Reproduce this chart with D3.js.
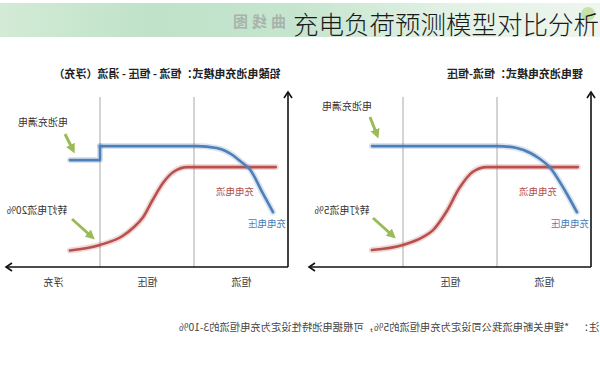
<!DOCTYPE html>
<html><head><meta charset="utf-8">
<script src="https://cdn.jsdelivr.net/npm/d3@7"></script>
<style>
html,body{margin:0;padding:0;background:#fff;}
svg{display:block;font-family:"Noto Sans CJK SC","Noto Sans",sans-serif;}
</style></head>
<body><svg id="c" width="600" height="366"></svg>
<script>
// ---------- data ----------
const mainTitle = "充电负荷预测模型对比分析";
const bannerText = "曲线图";
const leadTitle = "铅酸电池充电模式：恒流 - 恒压 - 涓流（浮充）";
const liTitle = "锂电池充电模式：恒流-恒压";
const leadPhases = ["恒流", "恒压", "浮充"];
const liPhases = ["恒流", "恒压"];
const fullLabel = "电池充满电";
const leadCutLabel = "转灯电流20%";
const liCutLabel = "转灯电流5%";
const currentLabel = "充电电流";
const voltageLabel = "充电电压";
const noteHead = "注：";
const noteBody = "*锂电关断电流我公司设定为充电恒流的5%，可根据电池特性设定为充电恒流的3-10%";

// [time (phase units), level]
const leadVoltage = [[0.16,3.14],[0.27,4.23],[0.40,5.54],[0.51,6.06],[0.59,6.4],[0.76,6.8],[0.97,6.91],[2.0,6.91]];
const leadVoltageFloat = [[2.0,6.91],[2.0,6.11],[2.32,6.11]];
const leadCurrent = [[0.13,5.71],[1.07,5.71],[1.22,5.43],[1.33,4.8],[1.44,3.83],[1.54,2.86],[1.65,2.23],[1.76,1.77],[2.0,1.26],[2.32,0.94]];
const liVoltage = [[0.15,3.14],[0.27,4.3],[0.44,5.71],[0.55,6.2],[0.64,6.5],[0.79,6.8],[1.0,6.91],[2.33,6.91]];
const liCurrent = [[0.14,5.71],[1.11,5.71],[1.26,5.43],[1.40,4.51],[1.54,3.14],[1.68,2.11],[1.79,1.71],[2.0,1.26],[2.33,0.97]];

// ---------- drawing ----------
const svg = d3.select("#c");
const defs = svg.append("defs");
const grad = defs.append("linearGradient").attr("id","band").attr("x1","0").attr("x2","1");
[[0,"#d3ebd6"],[0.25,"#bfe2c8"],[0.5,"#c6e5cf"],[0.75,"#e2f1e5"],[1,"#eef6ef"]].forEach(([o,c])=>grad.append("stop").attr("offset",o).attr("stop-color",c));
defs.append("marker").attr("id","garrow").attr("viewBox","0 -5 10 10").attr("refX",6).attr("refY",0)
  .attr("markerWidth",3.2).attr("markerHeight",3.2).attr("orient","auto")
  .append("path").attr("d","M0,-5L10,0L0,5Z").attr("fill","#9bbb59");

// header band
svg.append("rect").attr("x",0).attr("y",3).attr("width",600).attr("height",34).attr("fill","url(#band)");
svg.append("circle").attr("cx",588).attr("cy",14).attr("r",7).attr("fill","#b9d98c").attr("opacity",0.7);
svg.append("text").attr("transform","translate(229,20) scale(-1,1)").attr("text-anchor","end")
  .attr("dominant-baseline","central").attr("font-size",15).attr("font-weight","bold")
  .attr("letter-spacing",4).attr("fill","#a9b3ab").text(bannerText);
svg.append("text").attr("x",599).attr("y",22).attr("text-anchor","end").attr("dominant-baseline","central")
  .attr("font-size",25.5).attr("font-weight",300).attr("fill","#1a1a1a").text(mainTitle);

const y = d3.scaleLinear().domain([0,10]).range([267,92]);

function mtext(g, cx, cy, str, size, color, weight){
  return g.append("text").attr("transform",`translate(${cx},${cy}) scale(-1,1)`)
    .attr("text-anchor","middle").attr("dominant-baseline","central")
    .attr("font-size",size).attr("font-weight",weight||"normal").attr("fill",color).text(str);
}

function panel(opt){
  const g = svg.append("g");
  const x = d3.scaleLinear().domain([0,3]).range([opt.axisX, opt.axisX-282]);
  // dividers
  g.selectAll("line.div").data([1,2]).join("line").attr("class","div")
    .attr("x1",d=>x(d)).attr("x2",d=>x(d)).attr("y1",97).attr("y2",y(0))
    .attr("stroke","#a8a8a8").attr("stroke-width",1);
  // x axis labels via d3 axis
  const ax = d3.axisBottom(x).tickValues(opt.phases.map((p,i)=>i+0.5)).tickSize(0)
    .tickFormat(v=>opt.phases[Math.floor(v)]);
  const ag = g.append("g").attr("transform",`translate(0,${y(0)})`).call(ax);
  ag.select(".domain").remove();
  ag.selectAll("text").attr("y",0).attr("dy",null).attr("dominant-baseline","central")
    .attr("transform","translate(0,14) scale(-1,1)").attr("font-size",10)
    .attr("font-family","Noto Sans CJK SC").attr("fill","#333");
  // axes lines
  g.append("line").attr("x1",x(0)).attr("x2",x(0)).attr("y1",y(0)).attr("y2",y(10)).attr("stroke","#111").attr("stroke-width",1.6);
  g.append("line").attr("x1",x(0)).attr("x2",x(3)).attr("y1",y(0)).attr("y2",y(0)).attr("stroke","#111").attr("stroke-width",1.6);
  g.append("path").attr("d",`M${x(0)-4},${y(10)+6}L${x(0)},${y(10)}L${x(0)+4},${y(10)+6}`).attr("fill","none").attr("stroke","#111").attr("stroke-width",1.6);
  g.append("path").attr("d",`M${x(3)+6},${y(0)-4}L${x(3)},${y(0)}L${x(3)+6},${y(0)+4}`).attr("fill","none").attr("stroke","#111").attr("stroke-width",1.6);

  const smooth = d3.line().x(d=>x(d[0])).y(d=>y(d[1])).curve(d3.curveMonotoneX);
  const straight = d3.line().x(d=>x(d[0])).y(d=>y(d[1]));
  function series(data, gen, color){
    g.append("path").attr("d",gen(data)).attr("fill","none").attr("stroke",color).attr("stroke-opacity",0.22)
      .attr("stroke-width",6).attr("stroke-linejoin","round").attr("stroke-linecap","round");
    g.append("path").attr("d",gen(data)).attr("fill","none").attr("stroke",color)
      .attr("stroke-width",2.6).attr("stroke-linejoin","round").attr("stroke-linecap","round");
  }
  series(opt.current, smooth, "#b8514e");
  series(opt.voltage, smooth, "#4e7fb8");
  if(opt.voltageFloat) series(opt.voltageFloat, straight, "#4e7fb8");

  // title & labels
  mtext(g, opt.titleX, 73, opt.title, 11, "#222", "bold");
  mtext(g, opt.fullX, opt.fullY, fullLabel, 10, "#333");
  mtext(g, opt.cutX, 209, opt.cut, 10, "#333");
  mtext(g, x(0)-53, 191, currentLabel, 9.5, "#b0504c");
  mtext(g, x(0)-21, 223, voltageLabel, 9.5, "#4a7db6");
  // green arrows
  opt.arrows.forEach(a=>{
    g.append("line").attr("x1",a[0]).attr("y1",a[1]).attr("x2",a[2]).attr("y2",a[3])
      .attr("stroke","#9bbb59").attr("stroke-width",3).attr("marker-end","url(#garrow)");
  });
}

panel({axisX:288, phases:leadPhases, voltage:leadVoltage, voltageFloat:leadVoltageFloat, current:leadCurrent,
  title:leadTitle, titleX:167, fullX:43, fullY:121, cut:leadCutLabel, cutX:37,
  arrows:[[65,134,73,150],[72,219,92,237]]});
panel({axisX:591, phases:liPhases, voltage:liVoltage, current:liCurrent,
  title:liTitle, titleX:515, fullX:347, fullY:105, cut:liCutLabel, cutX:342,
  arrows:[[370,117,377,135],[373,218,393,236]]});

// footnote
mtext(svg, 589, 326, noteHead, 10.5, "#444");
mtext(svg, 374, 326, noteBody, 10.3, "#444");
</script></body></html>
